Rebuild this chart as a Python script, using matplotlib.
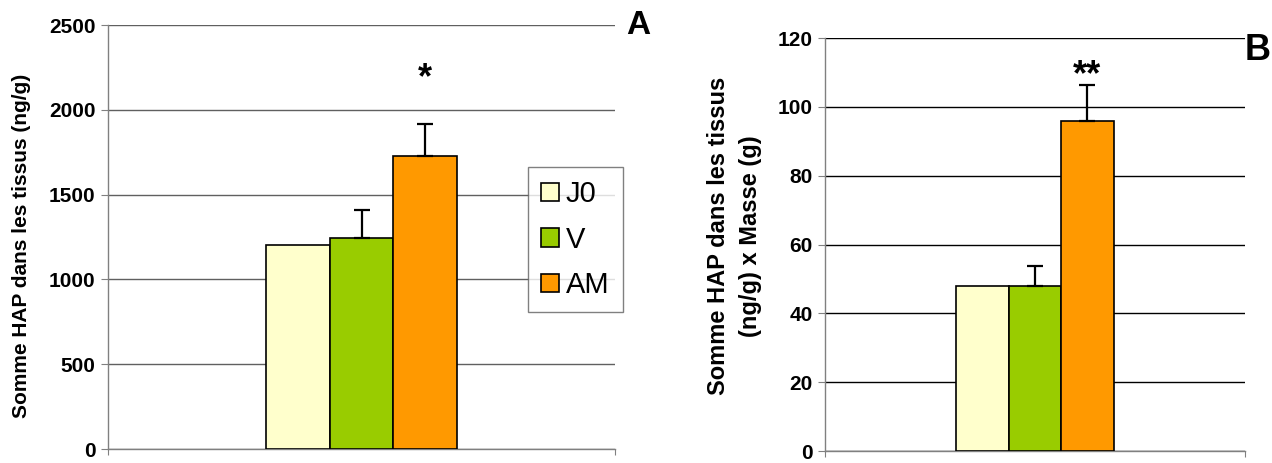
import numpy as np
import matplotlib
matplotlib.use("Agg")
import matplotlib.pyplot as plt
from matplotlib.patches import Patch

plt.rcParams['font.family'] = ['Liberation Sans', 'DejaVu Sans']

# data
groups = ["J0", "V", "AM"]
colors = ["#FFFFCC", "#99CC00", "#FF9900"]

tissue_mean = [1200, 1244, 1729]
tissue_err = [0, 165, 187]
tissue_stars = ["", "", "*"]

mass_mean = [47.8, 47.8, 95.9]
mass_err = [0, 6.1, 10.5]
mass_stars = ["", "", "**"]


def draw_panel(ax, means, errs, stars, star_pad, ymax, ystep, ylabel, gridcolor,
               label_size=15):
    w = 0.125
    xs = (np.arange(len(means)) - 1) * w
    for x, m, e, c in zip(xs, means, errs, colors):
        ax.bar(x, m, width=w, color=c, edgecolor="black", linewidth=1.2, zorder=3)
        if e > 0:
            ax.errorbar(x, m, yerr=[[0], [e]], fmt="none", ecolor="black",
                        elinewidth=1.6, capsize=5.5, capthick=1.6, zorder=4)
    for x, m, e, s in zip(xs, means, errs, stars):
        if s:
            ax.annotate(s, (x, m + e), xytext=(0, star_pad), textcoords="offset points",
                        ha="center", va="bottom", fontsize=26, fontweight="bold")
    ax.set_xlim(-0.5, 0.5)
    ax.set_ylim(0, ymax)
    ax.set_yticks(np.arange(0, ymax + 1, ystep))
    ax.set_xticks([-0.5, 0.5])
    ax.set_xticklabels([])
    ax.tick_params(axis="x", length=4, color="#808080", direction="out")
    ax.tick_params(axis="y", length=5, color="#808080", labelsize=15, pad=4)
    for lab in ax.get_yticklabels():
        lab.set_fontweight("bold")
    ax.yaxis.grid(True, color=gridcolor, linewidth=1.0, zorder=0)
    ax.set_axisbelow(True)
    for sp in ["top", "right"]:
        ax.spines[sp].set_visible(False)
    for sp in ["left", "bottom"]:
        ax.spines[sp].set_color("#808080")
        ax.spines[sp].set_linewidth(1.0)
    ax.set_ylabel(ylabel, fontsize=label_size, fontweight="bold", linespacing=1.5)


fig = plt.figure(figsize=(12.72, 4.63), dpi=100)

axA = fig.add_axes([0.0849, 0.0302, 0.3986, 0.9158])
draw_panel(axA, tissue_mean, tissue_err, tissue_stars, 20, 2500, 500,
           "Somme HAP dans les tissus (ng/g)", "#606060")
axA.yaxis.set_label_coords(-0.152, 0.48)

axB = fig.add_axes([0.6486, 0.0259, 0.3300, 0.8920])
draw_panel(axB, mass_mean, mass_err, mass_stars, -6, 120, 20,
           "Somme HAP dans les tissus\n(ng/g) x Masse (g)", "black", label_size=17)
axB.yaxis.set_label_coords(-0.15, 0.52)

handles = [Patch(facecolor=c, edgecolor="black", linewidth=1.2) for c in colors]
leg = fig.legend(handles, groups, loc="upper left",
                 bbox_to_anchor=(528 / 1272, 1 - 167 / 463),
                 fontsize=21, frameon=True, fancybox=False, shadow=False,
                 handlelength=0.6, handleheight=0.6, handletextpad=0.25,
                 labelspacing=0.6, borderpad=0.45, borderaxespad=0)
leg.get_frame().set_edgecolor("#606060")
leg.get_frame().set_linewidth(1.0)

fig.text(638 / 1272, 1 - 26 / 463, "A", fontsize=24, fontweight="bold",
         ha="center", va="center")
fig.text(1258 / 1272, 1 - 50 / 463, "B", fontsize=26, fontweight="bold",
         ha="center", va="center")

fig.savefig("out.png", dpi=100)
